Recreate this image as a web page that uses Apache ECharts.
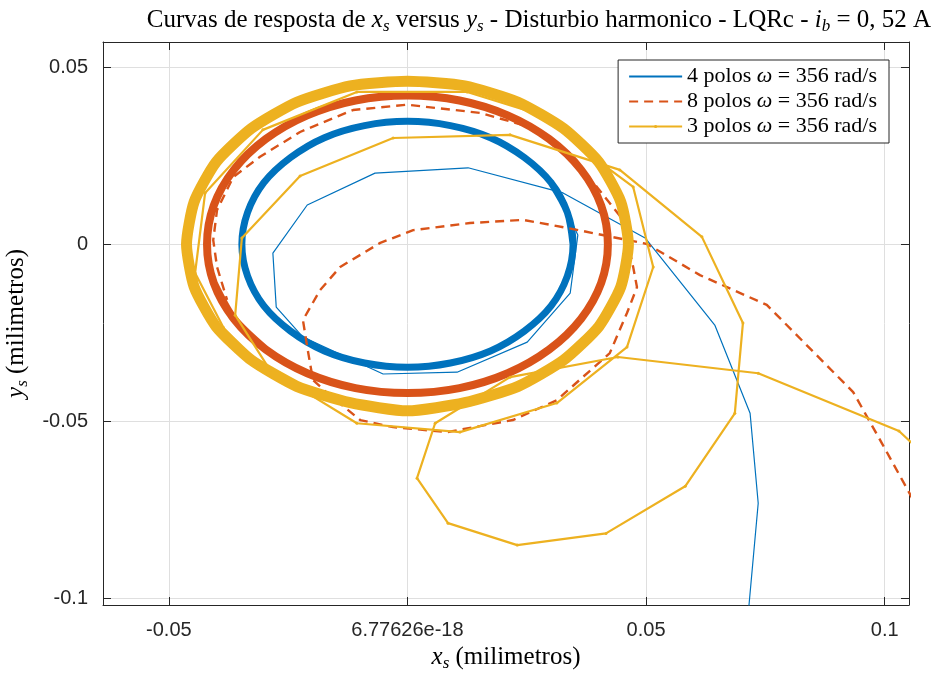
<!DOCTYPE html>
<html>
<head>
<meta charset="utf-8">
<script src="https://cdn.jsdelivr.net/npm/echarts@6/dist/echarts.min.js"></script>
<style>
    html, body { margin: 0; padding: 0; background: #fff; }
    #chart { width: 937px; height: 673px; }
</style>
</head>
<body>
<div id="chart"></div>
<script>
// Axis ticks and their labels (MATLAB printed the zero tick as 6.77626e-18)
var xTicks = [-0.05, 0, 0.05, 0.1];
var xTickLabels = ['-0.05', '6.77626e-18', '0.05', '0.1'];
var yTicks = [-0.1, -0.05, 0, 0.05];
var yTickLabels = ['-0.1', '-0.05', '0', '0.05'];

var seriesNames = ['4 polos ω = 356 rad/s', '8 polos ω = 356 rad/s', '3 polos ω = 356 rad/s'];

// 4 polos: transient spiral, then the limit cycle
var blueTransient = [
    [0.0709, -0.1118], [0.0735, -0.0731], [0.0718, -0.0477], [0.0644, -0.0228],
    [0.0498, 0.0018], [0.0326, 0.0145], [0.0127, 0.0216], [-0.0068, 0.0201],
    [-0.0210, 0.0111], [-0.0282, -0.0025], [-0.0275, -0.0177], [-0.0219, -0.0262],
    [-0.0051, -0.0366], [0.0104, -0.0361], [0.0251, -0.0276], [0.0341, -0.0138],
    [0.0357, 0.0026], [0.0347, 0.0055]
];
var blueCycle = [
    [0.0347, 0], [0.0335, 0.0090], [0.0301, 0.0174], [0.0245, 0.0245], [0.0174, 0.0301],
    [0.0090, 0.0335], [0, 0.0347], [-0.0090, 0.0335], [-0.0174, 0.0301], [-0.0245, 0.0245],
    [-0.0301, 0.0174], [-0.0335, 0.0090], [-0.0347, 0], [-0.0335, -0.0090], [-0.0301, -0.0174],
    [-0.0245, -0.0245], [-0.0174, -0.0301], [-0.0090, -0.0335], [0, -0.0347], [0.0090, -0.0335],
    [0.0174, -0.0301], [0.0245, -0.0245], [0.0301, -0.0174], [0.0335, -0.0090], [0.0347, 0],
    [0.0335, 0.0090], [0.0301, 0.0174]
];

// 8 polos
var redTransient = [
    [0.1074, -0.0756], [0.0994, -0.0561], [0.0934, -0.0417], [0.0753, -0.0171],
    [0.0613, -0.0087], [0.0502, 0.0001], [0.0336, 0.0046], [0.0242, 0.0069],
    [0.0131, 0.0060], [0.0012, 0.0040], [-0.0057, 0.0004], [-0.0141, -0.0064],
    [-0.0183, -0.0129], [-0.0219, -0.0214], [-0.0210, -0.0290], [-0.0198, -0.0383],
    [-0.0168, -0.0420], [-0.0099, -0.0496], [-0.0030, -0.0516], [0.0083, -0.0530],
    [0.0221, -0.0496], [0.0313, -0.0440], [0.0424, -0.0307], [0.0460, -0.0194],
    [0.0481, -0.0121], [0.0473, -0.0064], [0.0452, 0.0069], [0.0397, 0.0162],
    [0.0341, 0.0247], [0.0257, 0.0331], [0.0152, 0.0371], [-0.0001, 0.0394],
    [-0.0114, 0.0379], [-0.0225, 0.0317], [-0.0309, 0.0247], [-0.0365, 0.0190],
    [-0.0399, 0.0097], [-0.0407, 0.0012], [-0.0399, -0.0064], [-0.0378, -0.0157]
];
var redCycle = [
    [-0.0406, -0.0109], [-0.0364, -0.0210], [-0.0297, -0.0297], [-0.0210, -0.0364],
    [-0.0109, -0.0406], [0, -0.0420], [0.0109, -0.0406], [0.0210, -0.0364],
    [0.0297, -0.0297], [0.0364, -0.0210], [0.0406, -0.0109], [0.0420, 0],
    [0.0406, 0.0109], [0.0364, 0.0210], [0.0297, 0.0297], [0.0210, 0.0364],
    [0.0109, 0.0406], [0, 0.0420], [-0.0109, 0.0406], [-0.0210, 0.0364],
    [-0.0297, 0.0297], [-0.0364, 0.0210], [-0.0406, 0.0109], [-0.0420, 0],
    [-0.0406, -0.0109], [-0.0364, -0.0210], [-0.0297, -0.0297]
];

// 3 polos
var yellowTransient = [
    [0.1084, -0.0595], [0.1030, -0.0527], [0.0735, -0.0364], [0.0441, -0.0318],
    [0.0215, -0.0375], [0.0058, -0.0505], [0.0020, -0.0660], [0.0085, -0.0787],
    [0.0230, -0.0849], [0.0416, -0.0816], [0.0582, -0.0683], [0.0686, -0.0477],
    [0.0703, -0.0222], [0.0617, 0.0021], [0.0445, 0.0210], [0.0215, 0.0309],
    [-0.0030, 0.0300], [-0.0225, 0.0193], [-0.0347, 0.0018], [-0.0361, -0.0200],
    [-0.0288, -0.0355], [-0.0106, -0.0505], [0.0110, -0.0530], [0.0313, -0.0448],
    [0.0460, -0.0290], [0.0515, -0.0064], [0.0473, 0.0162], [0.0403, 0.0232],
    [0.0292, 0.0360], [0.0125, 0.0430], [-0.0106, 0.0430], [-0.0303, 0.0323],
    [-0.0424, 0.0145], [-0.0445, -0.0081], [-0.0386, -0.0234]
];
var yellowCycle = [
    [-0.0401, -0.0232], [-0.0327, -0.0327], [-0.0232, -0.0401], [-0.0120, -0.0447],
    [0, -0.0470], [0.0120, -0.0447], [0.0232, -0.0401], [0.0327, -0.0327],
    [0.0401, -0.0232], [0.0447, -0.0120], [0.0463, 0], [0.0447, 0.0120],
    [0.0401, 0.0232], [0.0327, 0.0327], [0.0232, 0.0401], [0.0120, 0.0447],
    [0, 0.0460], [-0.0120, 0.0447], [-0.0232, 0.0401], [-0.0327, 0.0327],
    [-0.0401, 0.0232], [-0.0447, 0.0120], [-0.0463, 0], [-0.0447, -0.0120],
    [-0.0401, -0.0232], [-0.0327, -0.0327], [-0.0232, -0.0401]
];

var chart = echarts.init(document.getElementById('chart'));

var serif = '"Liberation Serif", "DejaVu Serif", serif';
var sans = '"Liberation Sans", Arial, sans-serif';
var axisColor = '#262626';

// rich styles for the LaTeX-like labels
var mathRich = {
    n: { fontFamily: serif, fontSize: 25, fontWeight: 'normal', color: '#000', lineHeight: 30, verticalAlign: 'middle' },
    i: { fontFamily: serif, fontSize: 25, fontWeight: 'normal', fontStyle: 'italic', color: '#000', lineHeight: 30, verticalAlign: 'middle' },
    s: { fontFamily: serif, fontSize: 17, fontWeight: 'normal', fontStyle: 'italic', color: '#000', lineHeight: 30, verticalAlign: 'bottom' }
};

function boxAxis(extra) {
    var base = {
        type: 'value',
        axisLine: { show: true, onZero: false, lineStyle: { color: axisColor, width: 1 } },
        axisLabel: { show: false },
        splitLine: { show: false }
    };
    return Object.assign(base, extra);
}

function tickStyle(values) {
    return { show: true, inside: true, length: 8, customValues: values, lineStyle: { color: axisColor } };
}

chart.setOption({

    animation: false,
    backgroundColor: '#fff',

    // Title
    title: {
        text: '{n|Curvas de resposta de }{i|x}{s|s}{n| versus }{i|y}{s|s}{n| - Disturbio harmonico - LQRc - }{i|i}{s|b}{n| = 0, 52 A}',
        left: 534,
        top: 0,
        textAlign: 'center',
        textStyle: { fontWeight: 'normal', rich: mathRich }
    },

    grid: {
        left: 103,
        right: 28,
        top: 42,
        bottom: 68,
        containLabel: false,
        outerBoundsMode: 'none'
    },

    legend: {
        data: [
            { name: seriesNames[0], itemStyle: { opacity: 0 } },
            { name: seriesNames[1], itemStyle: { opacity: 0 } },
            { name: seriesNames[2] }
        ],
        orient: 'vertical',
        right: 48,
        top: 60,
        padding: [4, 12, 4, 10],
        itemWidth: 53,
        itemHeight: 4,
        itemGap: 0,
        borderColor: axisColor,
        borderWidth: 1,
        borderRadius: 0,
        backgroundColor: '#fff',
        formatter: function (name) {
            return name.replace('ω', '{w|ω}');
        },
        textStyle: {
            fontFamily: serif,
            fontSize: 22,
            color: '#000',
            lineHeight: 25,
            rich: {
                w: { fontFamily: serif, fontSize: 22, fontStyle: 'italic', color: '#000', lineHeight: 25 }
            }
        }
    },

    xAxis: [
        boxAxis({
            min: -0.0638,
            max: 0.1051,
            position: 'bottom',
            axisTick: tickStyle(xTicks),
            axisLabel: {
                show: true,
                customValues: xTicks,
                margin: 15,
                color: axisColor,
                fontFamily: sans,
                fontSize: 20,
                formatter: function (v) {
                    var k = xTicks.indexOf(v);
                    return k >= 0 ? xTickLabels[k] : '';
                }
            },
            splitLine: { show: true, lineStyle: { color: '#dfdfdf', width: 1 } },
            name: '{i|x}{s|s}{n| (milimetros)}',
            nameLocation: 'middle',
            nameGap: 37,
            nameTextStyle: { rich: mathRich }
        }),
        boxAxis({
            min: -0.0638,
            max: 0.1051,
            position: 'top',
            axisTick: tickStyle(xTicks)
        })
    ],

    yAxis: [
        boxAxis({
            min: -0.1018,
            max: 0.0571,
            position: 'left',
            axisTick: tickStyle(yTicks),
            axisLabel: {
                show: true,
                customValues: yTicks,
                margin: 15,
                color: axisColor,
                fontFamily: sans,
                fontSize: 20,
                formatter: function (v) {
                    var k = yTicks.indexOf(v);
                    return k >= 0 ? yTickLabels[k] : '';
                }
            },
            splitLine: { show: true, lineStyle: { color: '#dfdfdf', width: 1 } },
            name: '{i|y}{s|s}{n| (milimetros)}',
            nameLocation: 'middle',
            nameGap: 52,
            nameTextStyle: { rich: mathRich }
        }),
        boxAxis({
            min: -0.1018,
            max: 0.0571,
            position: 'right',
            axisTick: tickStyle(yTicks)
        })
    ],

    series: [
        {
            name: seriesNames[0],
            type: 'line',
            data: blueTransient,
            symbol: 'none',
            lineStyle: { color: '#0072BD', width: 1.2 },
            itemStyle: { color: '#0072BD' },
            z: 2
        },
        {
            name: seriesNames[0],
            type: 'line',
            data: blueCycle,
            symbol: 'none',
            smooth: 0.3,
            lineStyle: { color: '#0072BD', width: 7 },
            itemStyle: { color: '#0072BD' },
            z: 2
        },
        {
            name: seriesNames[1],
            type: 'line',
            data: redTransient,
            symbol: 'none',
            lineStyle: { color: '#D95319', width: 2.4, type: [9, 6] },
            itemStyle: { color: '#D95319' },
            z: 3
        },
        {
            name: seriesNames[1],
            type: 'line',
            data: redCycle,
            symbol: 'none',
            smooth: 0.3,
            lineStyle: { color: '#D95319', width: 8 },
            itemStyle: { color: '#D95319' },
            z: 3
        },
        {
            name: seriesNames[2],
            type: 'line',
            data: yellowTransient,
            symbol: 'circle',
            symbolSize: 3,
            showSymbol: true,
            lineStyle: { color: '#EDB120', width: 2.2 },
            itemStyle: { color: '#EDB120' },
            z: 4
        },
        {
            name: seriesNames[2],
            type: 'line',
            data: yellowCycle,
            symbol: 'none',
            smooth: 0.2,
            lineStyle: { color: '#EDB120', width: 11 },
            itemStyle: { color: '#EDB120' },
            z: 4
        }
    ]
});
</script>
</body>
</html>
